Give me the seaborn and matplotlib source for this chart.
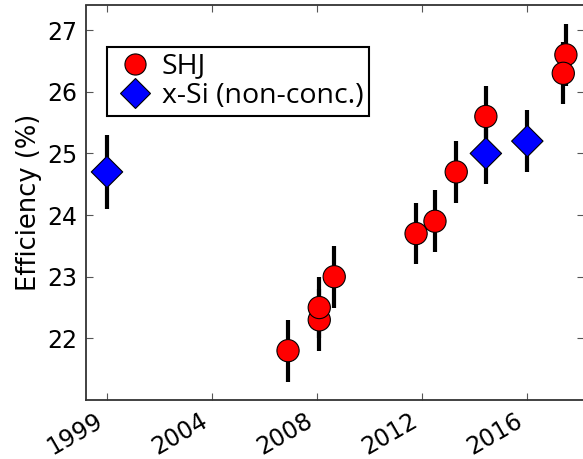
import numpy as np
import pandas as pd
import matplotlib
matplotlib.use("Agg")
import matplotlib.pyplot as plt
import seaborn as sns

# Record efficiencies (%) by year position, with uncertainty
shj_year = [2006.90, 2008.09, 2008.09, 2008.66, 2011.78, 2012.50, 2013.31, 2014.44, 2017.49, 2017.39]
shj_eff = [21.8, 22.3, 22.5, 23.0, 23.7, 23.9, 24.7, 25.6, 26.6, 26.3]
shj_err = [0.5, 0.5, 0.5, 0.5, 0.5, 0.5, 0.5, 0.5, 0.5, 0.5]

xsi_year = [2000.0, 2014.44, 2016.02]
xsi_eff = [24.7, 25.0, 25.2]
xsi_err = [0.6, 0.5, 0.5]

tick_pos = [2000, 2004, 2008, 2012, 2016]
tick_labels = ["1999", "2004", "2008", "2012", "2016"]
y_ticks = [22, 23, 24, 25, 26, 27]

label_shj = "SHJ"
label_xsi = "x-Si (non-conc.)"

df = pd.DataFrame({
    "year": shj_year + xsi_year,
    "eff": shj_eff + xsi_eff,
    "err": shj_err + xsi_err,
    "tech": [label_shj] * len(shj_year) + [label_xsi] * len(xsi_year),
})

sns.set_style("ticks")
plt.rcParams["font.family"] = ["DejaVu Sans"]
plt.rcParams["text.color"] = "black"
plt.rcParams["axes.labelcolor"] = "black"

fig = plt.figure(figsize=(5.83, 4.59), dpi=100)
ax = fig.add_axes([86 / 583, (459 - 400) / 459, (584 - 86) / 583, (400 - 5.5) / 459])

# vertical error bars behind the markers
ax.errorbar(df["year"], df["eff"], yerr=df["err"], fmt="none",
            ecolor="black", elinewidth=3, capsize=0, zorder=1)

sns.scatterplot(data=df, x="year", y="eff", hue="tech", style="tech",
                palette={label_shj: "#ff0000", label_xsi: "#0000ff"},
                markers={label_shj: "o", label_xsi: "D"},
                s=16 ** 2, edgecolor="black", linewidth=0.8,
                ax=ax, zorder=3)

ax.set_xlim(1999.2, 2018.18)
ax.set_ylim(21.0, 27.4)
ax.set_xticks(tick_pos)
ax.set_xticklabels(tick_labels, rotation=30, ha="right", fontsize=17)
ax.set_yticks(y_ticks)
ax.set_yticklabels([str(v) for v in y_ticks], fontsize=17)
ax.set_xlabel("")
ax.set_ylabel("Efficiency (%)", fontsize=18.5, labelpad=4)

ax.tick_params(direction="in", length=5, width=0.8, color="#555555",
               labelcolor="black", top=True, right=True, pad=6)
for sp in ax.spines.values():
    sp.set_color("#333333")
    sp.set_linewidth(1.3)
    sp.set_visible(True)

handles, labels = ax.get_legend_handles_labels()
leg = ax.legend(handles, labels, loc="upper left", bbox_to_anchor=(0.042, 0.895),
                frameon=True, fancybox=False, edgecolor="black", framealpha=1,
                prop={"family": "Open Sans", "size": 20.5}, handletextpad=0.12,
                borderpad=0.2, labelspacing=0.05, markerscale=0.95,
                handlelength=1.6, borderaxespad=0)
leg.get_frame().set_linewidth(1.5)

fig.savefig("out.png", dpi=100)
